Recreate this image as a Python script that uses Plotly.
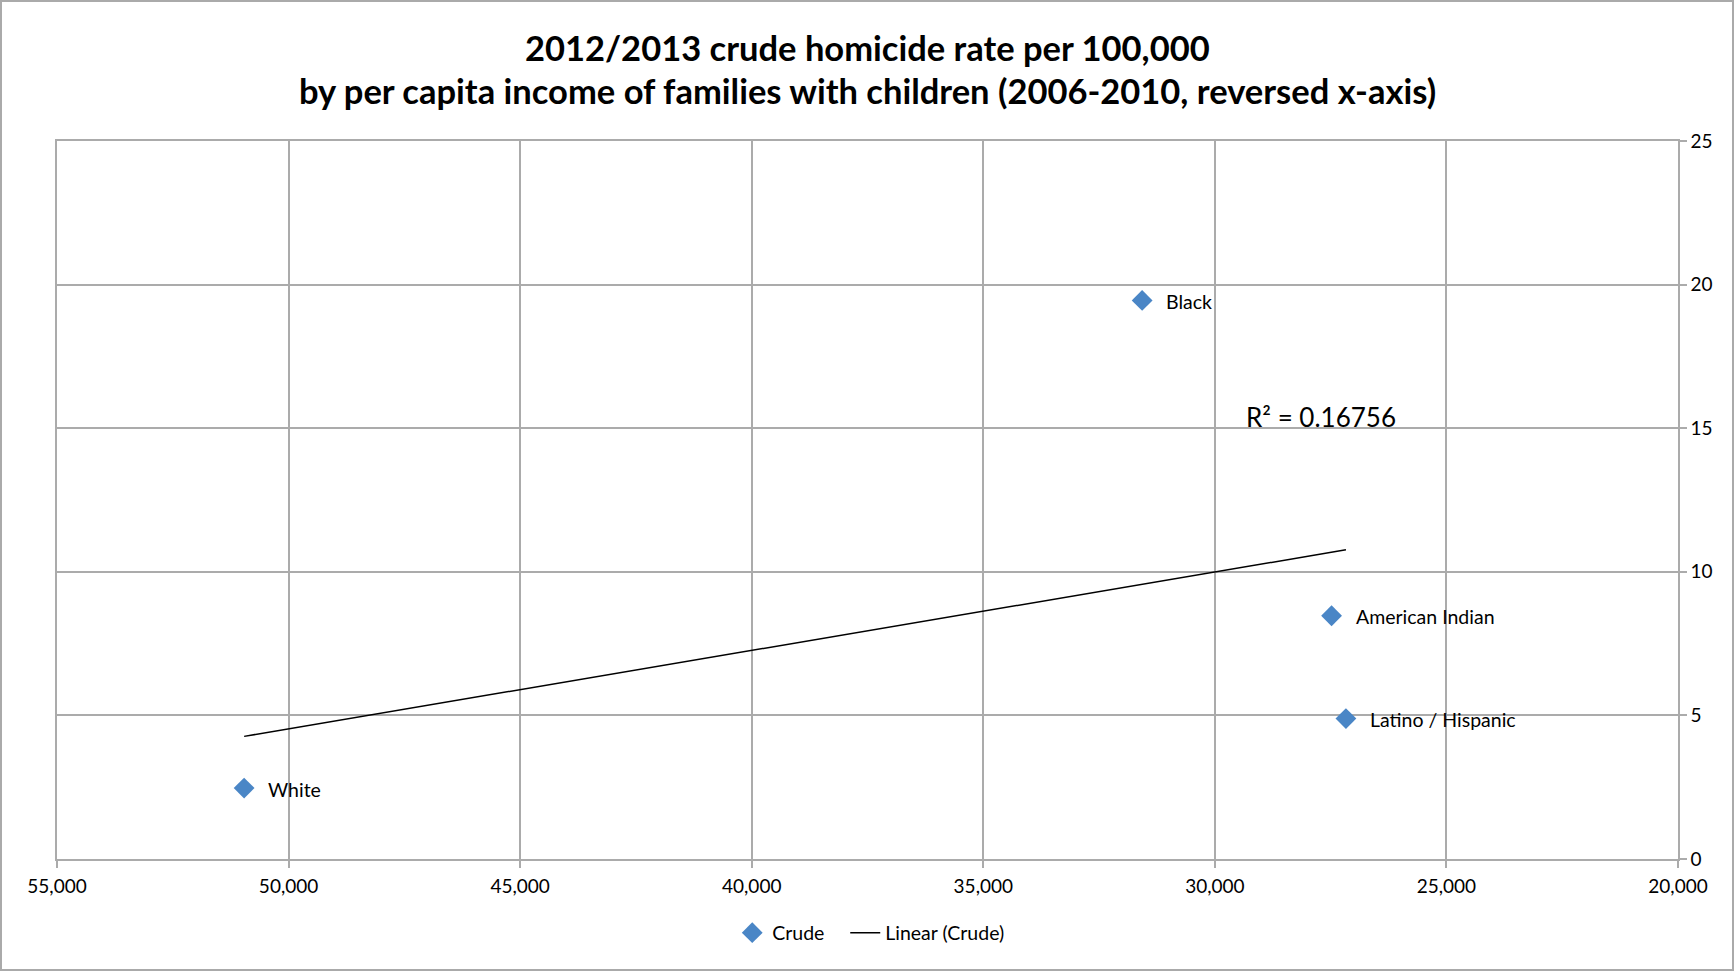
import numpy as np
import plotly.graph_objects as go

# ---- data ----
groups = ["White", "Black", "American Indian", "Latino / Hispanic"]
income = [50960, 31570, 27480, 27170]          # per capita income (x)
crude_rate = [2.47, 19.45, 8.47, 4.89]          # crude homicide rate per 100,000 (y)
r2_text = "R² = 0.16756"
x_ticks = [55000, 50000, 45000, 40000, 35000, 30000, 25000, 20000]
y_ticks = [0, 5, 10, 15, 20, 25]

W, H = 1734, 971
L, R, T, B = 57, 56, 141, 112
pw, ph = W - L - R, H - T - B

FONT = "Lato"
GRID = "#ababab"
BLUE = "#4a86c6"

# linear trendline (least squares), drawn across the data's x extent
slope, intercept = np.polyfit(income, crude_rate, 1)
trend_x = [min(income), max(income)]
trend_y = [slope * v + intercept for v in trend_x]

fig = go.Figure()
fig.add_trace(go.Scatter(
    x=income, y=crude_rate, mode="markers", name="Crude",
    marker=dict(symbol="diamond", size=16, color=BLUE, line=dict(width=0)),
    legendwidth=68,
))
fig.add_trace(go.Scatter(
    x=trend_x, y=trend_y, mode="lines", name="Linear (Crude)",
    line=dict(color="black", width=1.5),
))

annotations = []
for g, xv, yv in zip(groups, income, crude_rate):
    annotations.append(dict(
        x=xv, y=yv, xref="x", yref="y", text=g, showarrow=False,
        xanchor="left", yanchor="middle", xshift=22, yshift=-1,
        font=dict(family=FONT, size=19.5, color="black"),
    ))
annotations.append(dict(
    x=27700, y=15.4, xref="x", yref="y", text=r2_text, showarrow=False,
    xanchor="center", yanchor="middle",
    font=dict(family=FONT, size=26, color="black"),
))
annotations.append(dict(
    x=0.5, y=(T + ph - 47.5) / ph, xref="paper", yref="paper",
    text="<b>2012/2013 crude homicide rate per 100,000</b>", showarrow=False,
    xanchor="center", yanchor="middle",
    font=dict(family=FONT, size=34.5, color="black"),
))
annotations.append(dict(
    x=0.5, y=(T + ph - 91) / ph, xref="paper", yref="paper",
    text="<b>by per capita income of families with children (2006-2010, reversed x-axis)</b>",
    showarrow=False, xanchor="center", yanchor="middle",
    font=dict(family=FONT, size=34.5, color="black"),
))

fig.update_layout(
    width=W, height=H,
    margin=dict(l=L, r=R, t=T, b=B),
    paper_bgcolor="white", plot_bgcolor="white",
    font=dict(family=FONT, size=19, color="black"),
    showlegend=True,
    legend=dict(
        orientation="h", x=0.502, xanchor="center",
        y=(ph - (933 - T)) / ph, yanchor="middle",
        font=dict(family=FONT, size=19.5), bgcolor="rgba(0,0,0,0)",
        itemwidth=30,
    ),
    annotations=annotations,
    shapes=[dict(
        type="rect", xref="paper", yref="paper",
        x0=(1 - L) / pw, x1=(W - 1 - L) / pw,
        y0=(T + ph - (H - 1)) / ph, y1=(T + ph - 1) / ph,
        line=dict(color="#aaaaaa", width=2), fillcolor="rgba(0,0,0,0)",
        layer="below",
    )],
)
fig.update_xaxes(
    range=[x_ticks[0], x_ticks[-1]], tickvals=x_ticks, tickformat=",",
    showgrid=True, gridcolor=GRID, gridwidth=1.5,
    showline=True, linecolor=GRID, linewidth=1.5, mirror=True,
    ticks="outside", ticklen=7, tickcolor=GRID, tickwidth=1.5, zeroline=False,
    tickfont=dict(family=FONT, size=19), fixedrange=True,
    ticklabelstandoff=2,
)
fig.update_yaxes(
    range=[y_ticks[0], y_ticks[-1]], tickvals=y_ticks, side="right",
    showgrid=True, gridcolor=GRID, gridwidth=1.5,
    showline=True, linecolor=GRID, linewidth=1.5, mirror=True,
    ticks="outside", ticklen=7, tickcolor=GRID, tickwidth=1.5, zeroline=False,
    tickfont=dict(family=FONT, size=19), fixedrange=True,
)

fig.write_html(
    "out.html",
    config={"displayModeBar": False},
    post_script="document.body.style.margin='0';document.body.style.padding='0';",
)
